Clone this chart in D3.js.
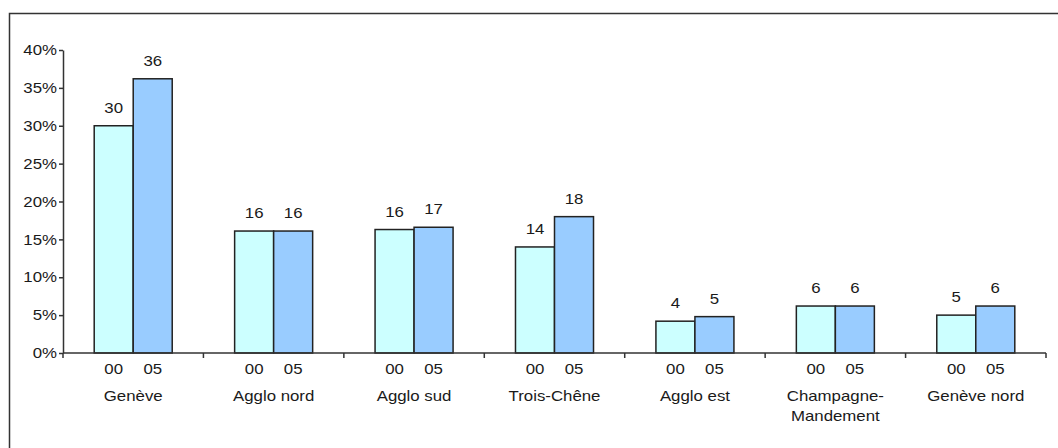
<!DOCTYPE html>
<html>
<head>
<meta charset="utf-8">
<script src="https://cdn.jsdelivr.net/npm/d3@7"></script>
<style>
  html, body { margin: 0; padding: 0; background: #fff; }
  svg { display: block; }
  text { font-family: "Liberation Sans", Arial, sans-serif; fill: #1a1a1a; }
</style>
</head>
<body>
<svg id="chart" width="1058" height="448"></svg>
<script>
// ---- data ----
const categories = ["Genève", "Agglo nord", "Agglo sud", "Trois-Chêne", "Agglo est", "Champagne-\nMandement", "Genève nord"];
const seriesNames = ["00", "05"];
const values00 = [30.0, 16.1, 16.3, 14.0, 4.2, 6.2, 5.0];
const values05 = [36.2, 16.1, 16.6, 18.0, 4.8, 6.2, 6.2];
const yTicks = [0, 5, 10, 15, 20, 25, 30, 35, 40];
const colors = ["#CCFFFF", "#99CCFF"];

const FS = 14.5, SX = 1.16;
const svg = d3.select("#chart");

// outer frame (top and left edges only visible)
svg.append("path")
  .attr("d", "M9.5,448 L9.5,13.5 L1058,13.5")
  .attr("fill", "none").attr("stroke", "#333").attr("stroke-width", 1.5);

const x0 = 63, x1 = 1046, yBase = 353, yTop = 50;
const x = d3.scaleBand().domain(categories).range([x0, x1]).padding(0);
const xs = d3.scaleBand().domain(seriesNames).range([0, x.bandwidth()]).paddingInner(0).paddingOuter(0.8);
const y = d3.scaleLinear().domain([0, 40]).range([yBase, yTop]);

const series = [values00, values05];

// text placed at (px,py) with slight horizontal stretch like the reference
function label(px, py, str) {
  return svg.append("text")
    .attr("transform", `translate(${px},${py}) scale(${SX},1)`)
    .attr("text-anchor", "middle").attr("font-size", FS)
    .text(str);
}

// bars
categories.forEach((c, ci) => {
  series.forEach((vals, si) => {
    const v = vals[ci];
    const bx = x(c) + xs(seriesNames[si]);
    svg.append("rect")
      .attr("x", bx).attr("y", y(v))
      .attr("width", xs.bandwidth()).attr("height", yBase - y(v))
      .attr("fill", colors[si]).attr("stroke", "#222").attr("stroke-width", 1.5);
    label(bx + xs.bandwidth() / 2, y(v) - 13, d3.format(".0f")(v));
    label(bx + xs.bandwidth() / 2, 374, seriesNames[si]);
  });
  const lines = c.split("\n");
  const t = label(x(c) + x.bandwidth() / 2, 401, null);
  lines.forEach((l, li) => {
    t.append("tspan").attr("x", 0).attr("dy", li === 0 ? 0 : 20).text(l);
  });
});

// y axis
const yAxis = d3.axisLeft(y).tickValues(yTicks).tickSize(4).tickSizeOuter(0).tickFormat(d => d + "%");
const gy = svg.append("g").attr("transform", `translate(${x0},0)`).call(yAxis);
gy.select(".domain").attr("stroke", "#333").attr("stroke-width", 1.5);
gy.selectAll(".tick line").attr("stroke", "#333").attr("stroke-width", 1.5);
gy.selectAll(".tick text").attr("font-size", FS).attr("x", 0)
  .attr("transform", `translate(-6,0) scale(${SX},1)`)
  .attr("font-family", "'Liberation Sans', Arial, sans-serif").attr("fill", "#1a1a1a");

// x axis with ticks at category boundaries
const gx = svg.append("g");
gx.append("line").attr("x1", x0).attr("x2", x1).attr("y1", yBase).attr("y2", yBase)
  .attr("stroke", "#333").attr("stroke-width", 1.5);
const bounds = categories.map(c => x(c)).concat([x1]);
gx.selectAll("line.tk").data(bounds).join("line").attr("class", "tk")
  .attr("x1", d => d).attr("x2", d => d).attr("y1", yBase).attr("y2", yBase + 5)
  .attr("stroke", "#333").attr("stroke-width", 1.5);
</script>
</body>
</html>
